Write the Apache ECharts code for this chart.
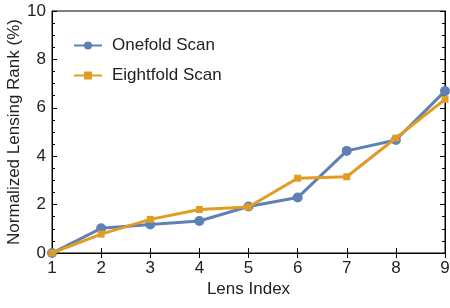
<!DOCTYPE html>
<html><head><meta charset="utf-8">
<script src="https://cdn.jsdelivr.net/npm/echarts@6/dist/echarts.min.js"></script>
<style>html,body{margin:0;padding:0;background:#fff}#c{width:450px;height:308px}</style>
</head><body><div id="c"></div>
<script>
var lensIndex = [1,2,3,4,5,6,7,8,9];
var onefold = [0.0,1.02,1.18,1.32,1.92,2.29,4.22,4.67,6.69];
var eightfold = [0.0,0.78,1.39,1.8,1.9,3.09,3.15,4.75,6.35];
var seriesNames = ['Onefold Scan','Eightfold Scan'];
var FONT = 'Liberation Sans';
function pairs(v){return lensIndex.map(function(x,i){return [x,v[i]];});}
var chart = echarts.init(document.getElementById('c'));
var tickStyle = {show:true,inside:true,length:5,lineStyle:{color:'#000',width:1}};
chart.setOption({
  animation:false,
  grid:{left:52,right:5,top:11,bottom:55,show:true,borderColor:'#000',borderWidth:1,outerBoundsMode:'none',containLabel:false},
  legend:{orient:'vertical',left:68,top:32,itemGap:13,itemWidth:28,itemHeight:10,
    textStyle:{fontFamily:FONT,fontSize:17,color:'#222',padding:[0,0,0,5]},data:seriesNames},
  xAxis:[{type:'value',min:1,max:9,interval:1,name:'Lens Index',nameLocation:'middle',nameGap:28,nameMoveOverlap:false,
    nameTextStyle:{fontFamily:FONT,fontSize:17,color:'#222'},
    axisLine:{show:true,lineStyle:{color:'#000'}},axisTick:tickStyle,splitLine:{show:false},
    axisLabel:{fontFamily:FONT,fontSize:17,color:'#222',margin:7}},
   {type:'value',position:'top',min:1,max:9,interval:1,axisLine:{show:true,lineStyle:{color:'#000'}},
    axisTick:tickStyle,axisLabel:{show:false},splitLine:{show:false}}],
  yAxis:[{type:'value',min:0,max:10,interval:2,name:'Normalized Lensing Rank (%)',nameLocation:'middle',nameGap:29,nameMoveOverlap:false,
    nameTextStyle:{fontFamily:FONT,fontSize:17,color:'#222'},
    axisLine:{show:true,lineStyle:{color:'#000'}},axisTick:tickStyle,
    minorTick:{show:true,splitNumber:4,length:3,lineStyle:{color:'#000'}},splitLine:{show:false},
    axisLabel:{fontFamily:FONT,fontSize:17,color:'#222',margin:6}},
   {type:'value',position:'right',min:0,max:10,interval:2,axisLine:{show:true,lineStyle:{color:'#000'}},
    axisTick:tickStyle,minorTick:{show:true,splitNumber:4,length:3,lineStyle:{color:'#000'}},
    axisLabel:{show:false},splitLine:{show:false}}],
  series:[
    {name:seriesNames[0],type:'line',data:pairs(onefold),symbol:'circle',symbolSize:10,
      lineStyle:{color:'#5E81B5',width:3},itemStyle:{color:'#5E81B5'},z:2},
    {name:seriesNames[1],type:'line',data:pairs(eightfold),symbol:'rect',symbolSize:7,
      lineStyle:{color:'#E19C24',width:3},itemStyle:{color:'#E19C24'},z:3}
  ]
});
</script></body></html>
